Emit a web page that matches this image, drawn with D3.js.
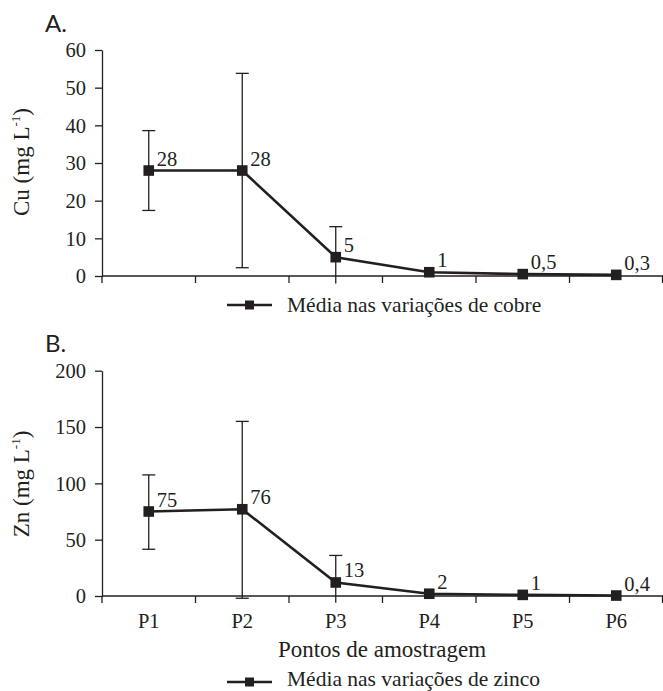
<!DOCTYPE html>
<html>
<head>
<meta charset="utf-8">
<script src="https://cdn.jsdelivr.net/npm/d3@7"></script>
<style>
  html, body { margin: 0; padding: 0; background: #fff; }
  svg { display: block; }
  text { font-family: "Liberation Serif", "Tinos", "Times New Roman", "DejaVu Serif", serif; fill: #231f20; }
</style>
</head>
<body>
<svg id="chart" width="663" height="691"></svg>
<script>
// ---- data ----
const categories = ["P1", "P2", "P3", "P4", "P5", "P6"];

const cuValues = [28, 28, 5, 1, 0.5, 0.3];
const cuLabels = ["28", "28", "5", "1", "0,5", "0,3"];
const cuErrHigh = [38.6, 53.8, 13.1, null, null, null];
const cuErrLow = [17.4, 2.2, -2, null, null, null];
const cuLowCap = [true, true, false, false, false, false];
const cuTicks = [0, 10, 20, 30, 40, 50, 60];

const znValues = [75, 77, 12, 2, 1, 0.4];
const znLabels = ["75", "76", "13", "2", "1", "0,4"];
const znErrHigh = [107.5, 155, 36, null, null, null];
const znErrLow = [41.5, -2, -6, null, null, null];
const znLowCap = [true, true, false, false, false, false];
const znTicks = [0, 50, 100, 150, 200];

const ink = "#231f20";
const serif = '"Liberation Serif", "Tinos", "Times New Roman", "DejaVu Serif", serif';
const svg = d3.select("#chart");

const x = d3.scaleBand().domain(categories).range([102, 663]);
const cx = c => x(c) + x.bandwidth() / 2;

function panel(opts) {
  const { values, labels, errHigh, errLow, lowCap, ticks, yDomain, yRange,
          letter, letterY, titleMain, titleY, showXLabels, legendText, legendY, legendTextY } = opts;
  const y = d3.scaleLinear().domain(yDomain).range(yRange);
  const g = svg.append("g");

  // y axis
  const yAxis = d3.axisLeft(y).tickValues(ticks).tickSize(7).tickSizeOuter(0).tickPadding(9);
  const ya = g.append("g").attr("transform", "translate(102,0)").call(yAxis);
  ya.attr("font-family", serif);
  ya.selectAll("path, line").attr("stroke", ink).attr("stroke-width", 1.3);
  ya.selectAll("text").style("font-family", serif).style("font-size", "20.5px").attr("fill", ink).attr("dy", "0.33em");

  // x axis line
  const y0 = y(0);
  g.append("line").attr("x1", 102).attr("x2", 663).attr("y1", y0).attr("y2", y0)
    .attr("stroke", ink).attr("stroke-width", 1.3);
  // boundary ticks
  const bounds = categories.map(c => x(c)).concat([x.range()[1] - 0.5]);
  g.selectAll(".bt").data(bounds).enter().append("line")
    .attr("x1", d => d).attr("x2", d => d).attr("y1", y0).attr("y2", y0 + 7)
    .attr("stroke", ink).attr("stroke-width", 1.3);

  if (showXLabels) {
    g.selectAll(".xl").data(categories).enter().append("text")
      .attr("x", d => cx(d)).attr("y", y0 + 32)
      .attr("text-anchor", "middle").style("font-family", serif).style("font-size", "20.5px").text(d => d);
  }

  // error bars
  categories.forEach((c, i) => {
    if (errHigh[i] == null) return;
    const xc = cx(c);
    g.append("line").attr("x1", xc).attr("x2", xc).attr("y1", y(errHigh[i])).attr("y2", y(errLow[i]))
      .attr("stroke", ink).attr("stroke-width", 1.3);
    g.append("line").attr("x1", xc - 6.5).attr("x2", xc + 6.5).attr("y1", y(errHigh[i])).attr("y2", y(errHigh[i]))
      .attr("stroke", ink).attr("stroke-width", 1.3);
    if (lowCap[i]) {
      g.append("line").attr("x1", xc - 6.5).attr("x2", xc + 6.5).attr("y1", y(errLow[i])).attr("y2", y(errLow[i]))
        .attr("stroke", ink).attr("stroke-width", 1.3);
    }
  });

  // line
  const line = d3.line().x((d, i) => cx(categories[i])).y(d => y(d));
  g.append("path").datum(values).attr("d", line).attr("fill", "none")
    .attr("stroke", ink).attr("stroke-width", 2.6);

  // markers
  g.selectAll(".mk").data(values).enter().append("rect")
    .attr("x", (d, i) => cx(categories[i]) - 5.3).attr("y", d => y(d) - 5.3)
    .attr("width", 10.6).attr("height", 10.6).attr("fill", ink);

  // value labels
  g.selectAll(".vl").data(values).enter().append("text")
    .attr("x", (d, i) => cx(categories[i]) + 8).attr("y", d => y(d) - 5)
    .style("font-family", serif).style("font-size", "20.5px").text((d, i) => labels[i]);

  // panel letter
  g.append("text").attr("x", 45).attr("y", letterY)
    .style("font-family", '"Lato", "DejaVu Sans", sans-serif').style("font-size", "24px").text(letter);

  // y title
  const t = g.append("text").attr("transform", `translate(29,${titleY}) rotate(-90)`)
    .attr("text-anchor", "middle").style("font-family", serif).style("font-size", "23px");
  t.append("tspan").text(titleMain + " (mg L");
  t.append("tspan").attr("dy", -9).style("font-size", "13px").text("-1");
  t.append("tspan").attr("dy", 9).text(")");

  // legend
  g.append("line").attr("x1", 227).attr("x2", 272).attr("y1", legendY).attr("y2", legendY)
    .attr("stroke", ink).attr("stroke-width", 2.6);
  g.append("rect").attr("x", 249.5 - 4.5).attr("y", legendY - 4.5).attr("width", 9).attr("height", 9).attr("fill", ink);
  g.append("text").attr("x", 287).attr("y", legendTextY).style("font-family", serif).style("font-size", "21.5px").text(legendText);
}

panel({
  values: cuValues, labels: cuLabels, errHigh: cuErrHigh, errLow: cuErrLow, lowCap: cuLowCap,
  ticks: cuTicks, yDomain: [0, 60], yRange: [276, 50],
  letter: "A.", letterY: 32, titleMain: "Cu", titleY: 162, showXLabels: false,
  legendText: "Média nas variações de cobre", legendY: 305, legendTextY: 312
});

panel({
  values: znValues, labels: znLabels, errHigh: znErrHigh, errLow: znErrLow, lowCap: znLowCap,
  ticks: znTicks, yDomain: [0, 200], yRange: [596, 370.7],
  letter: "B.", letterY: 352, titleMain: "Zn", titleY: 484, showXLabels: true,
  legendText: "Média nas variações de zinco", legendY: 682, legendTextY: 686
});

// x axis title
svg.append("text").attr("x", 382).attr("y", 657).attr("text-anchor", "middle")
  .style("font-family", serif).style("font-size", "23px").text("Pontos de amostragem");
</script>
</body>
</html>
